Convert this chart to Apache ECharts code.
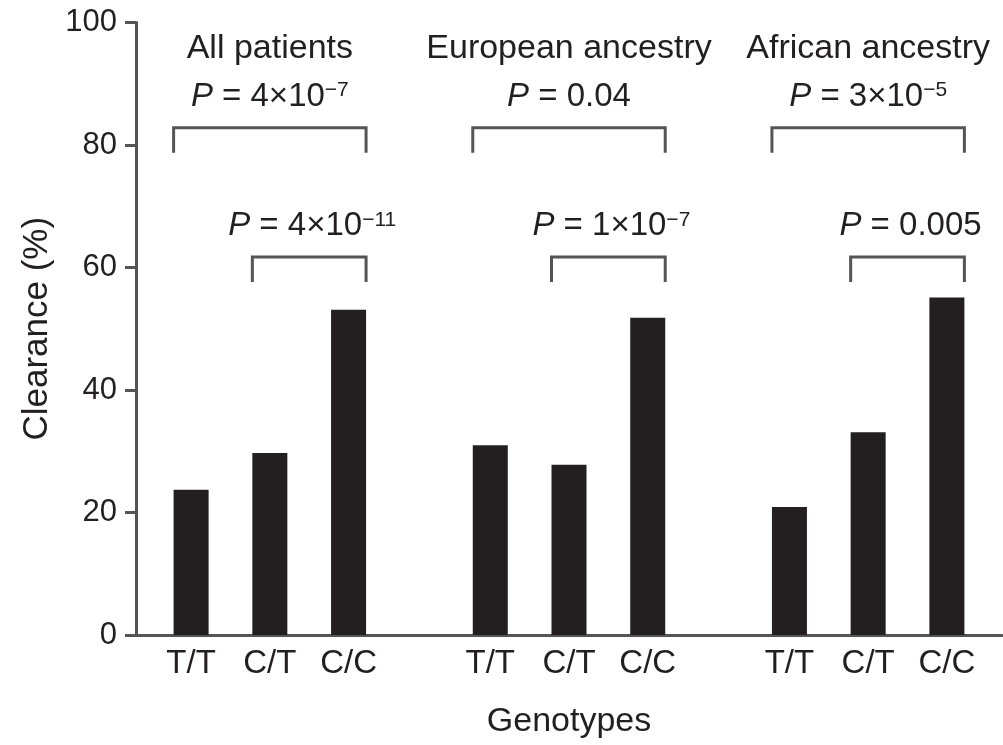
<!DOCTYPE html>
<html>
<head>
<meta charset="utf-8">
<script src="https://cdn.jsdelivr.net/npm/echarts@6/dist/echarts.min.js"></script>
<style>
html,body{margin:0;padding:0;background:#fff;}
#chart{width:1003px;height:745px;}
</style>
</head>
<body>
<div id="chart"></div>
<script>
// ---------------- data ----------------
const categories = ['T/T', 'C/T', 'C/C', 'T/T', 'C/T', 'C/C', 'T/T', 'C/T', 'C/C'];
const clearance = [23.7, 29.7, 53.1, 31.0, 27.8, 51.8, 20.9, 33.1, 55.1];
const groupNames = ['All patients', 'European ancestry', 'African ancestry'];
const groupPBase = ['4×10', '0.04', '3×10'];
const groupPExp = ['−7', '', '−5'];
const pairPBase = ['4×10', '1×10', '0.005'];
const pairPExp = ['−11', '−7', ''];
const yTicks = [0, 20, 40, 60, 80, 100];
const xTitle = 'Genotypes';
const yTitle = 'Clearance (%)';

// ---------------- layout (slots on category axis) ----------------
const LEAD = 3, STEP = 5, GAP = 4, TOTAL = 55;
const slots = [];
let pos = LEAD;
for (let g = 0; g < 3; g++) {
  for (let k = 0; k < 3; k++) { slots.push(pos); pos += STEP; }
  pos += GAP;
}
const axisData = new Array(TOTAL).fill('');
const barData = new Array(TOTAL).fill('-');
slots.forEach((s, i) => { axisData[s] = categories[i]; barData[s] = clearance[i]; });

const BAR_W = 35;
const INK = '#231f20';
const LINE = '#555555';
const FONT = "'Liberation Sans', Arial, Helvetica, sans-serif";
const GROUP_NAME_Y = 95.8, GROUP_P_Y = 87.9, GROUP_BRACKET_Y = 82.8;
const PAIR_P_Y = 66.8, PAIR_BRACKET_Y = 61.7;
const DROP = 25;

function pText(base, exp) {
  return '{i|P}{n| = ' + base + '}' + (exp ? '{s|' + exp + '}' : '');
}
const rich = {
  i: { fontStyle: 'italic', fontSize: 33, fontFamily: FONT, fill: INK, color: INK },
  n: { fontSize: 33, fontFamily: FONT, fill: INK, color: INK },
  s: { fontSize: 21, fontFamily: FONT, fill: INK, color: INK, verticalAlign: 'top' }
};

const annotData = [0, 1, 2].map(g => [slots[3 * g + 1], GROUP_NAME_Y]);

const chart = echarts.init(document.getElementById('chart'), null, { renderer: 'canvas' });
chart.setOption({
  animation: false,
  backgroundColor: '#ffffff',
  grid: { left: 136, right: 1, top: 22.5, bottom: 110, containLabel: false },
  xAxis: {
    type: 'category',
    data: axisData,
    boundaryGap: true,
    axisLine: { show: true, lineStyle: { color: LINE, width: 3 } },
    axisTick: { show: false },
    axisLabel: { interval: 0, color: INK, fontSize: 33, fontFamily: FONT, margin: 12 },
    name: xTitle,
    nameLocation: 'middle',
    nameGap: 70,
    nameTextStyle: { color: INK, fontSize: 34, fontFamily: FONT }
  },
  yAxis: {
    type: 'value',
    min: yTicks[0],
    max: yTicks[yTicks.length - 1],
    interval: 20,
    splitLine: { show: false },
    axisLine: { show: true, lineStyle: { color: LINE, width: 3 } },
    axisTick: { show: true, length: 11, lineStyle: { color: LINE, width: 3 } },
    axisLabel: { color: INK, fontSize: 31, fontFamily: FONT, margin: 19 },
    name: yTitle,
    nameLocation: 'middle',
    nameRotate: 90,
    nameGap: 80,
    nameTextStyle: { color: INK, fontSize: 35, fontFamily: FONT }
  },
  series: [
    {
      type: 'bar',
      data: barData,
      barWidth: BAR_W,
      itemStyle: { color: INK },
      silent: true
    },
    {
      type: 'custom',
      data: annotData,
      clip: false,
      silent: true,
      renderItem: function (params, api) {
        const g = params.dataIndex;
        const sA = slots[3 * g], sB = slots[3 * g + 1], sC = slots[3 * g + 2];
        const half = BAR_W / 2;
        const xA = api.coord([sA, 0])[0], xB = api.coord([sB, 0])[0], xC = api.coord([sC, 0])[0];
        const yName = api.coord([sB, GROUP_NAME_Y])[1];
        const yGP = api.coord([sB, GROUP_P_Y])[1];
        const yGB = api.coord([sB, GROUP_BRACKET_Y])[1];
        const yPP = api.coord([sB, PAIR_P_Y])[1];
        const yPB = api.coord([sB, PAIR_BRACKET_Y])[1];
        const lineStyle = { stroke: LINE, lineWidth: 3, fill: null };
        return {
          type: 'group',
          children: [
            { type: 'polyline', shape: { points: [[xA - half, yGB + DROP], [xA - half, yGB], [xC + half, yGB], [xC + half, yGB + DROP]] }, style: lineStyle },
            { type: 'polyline', shape: { points: [[xB - half, yPB + DROP], [xB - half, yPB], [xC + half, yPB], [xC + half, yPB + DROP]] }, style: lineStyle },
            { type: 'text', x: xB, y: yName, style: { text: groupNames[g], fontSize: 34, fontFamily: FONT, fill: INK, align: 'center', verticalAlign: 'middle' } },
            { type: 'text', x: xB, y: yGP, style: { text: pText(groupPBase[g], groupPExp[g]), rich: rich, fontSize: 33, fontFamily: FONT, fill: INK, align: 'center', verticalAlign: 'middle' } },
            { type: 'text', x: (xB + xC) / 2 + 3, y: yPP, style: { text: pText(pairPBase[g], pairPExp[g]), rich: rich, fontSize: 33, fontFamily: FONT, fill: INK, align: 'center', verticalAlign: 'middle' } }
          ]
        };
      }
    }
  ]
});
</script>
</body>
</html>
